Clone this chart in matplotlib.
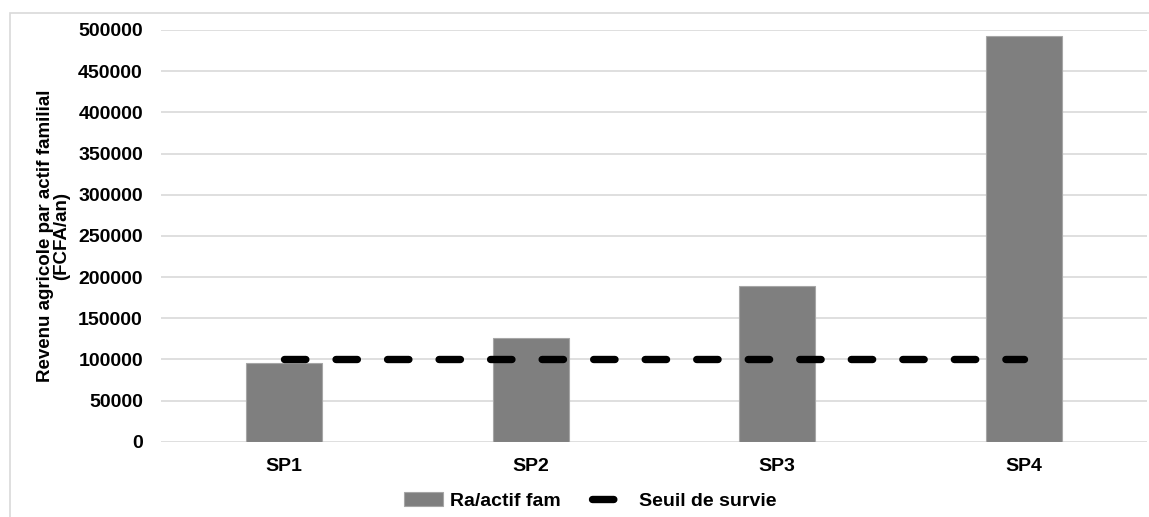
import matplotlib
matplotlib.use('Agg')
import matplotlib.pyplot as plt
from matplotlib.patches import Rectangle
import numpy as np

categories = ['SP1', 'SP2', 'SP3', 'SP4']
revenu = [95000, 126000, 189000, 493000]
seuil = [100000, 100000, 100000, 100000]
yticks = list(range(0, 500001, 50000))

plt.rcParams['font.family'] = ['Liberation Sans', 'DejaVu Sans']
plt.rcParams['font.weight'] = 'bold'

fig = plt.figure(figsize=(11.49, 5.17), dpi=100)
ax = fig.add_axes([161 / 1149, 1 - 441.7 / 517, 986 / 1149, (441.7 - 30) / 517])

x = np.arange(len(categories))
bars = ax.bar(x, revenu, width=0.31, color='#7f7f7f', edgecolor='#a6a6a6', linewidth=0.8,
              label='Ra/actif fam', zorder=2)
line, = ax.plot(x, seuil, color='black', lw=5.3, ls=(0, (2.9, 4.1)), dash_capstyle='round',
                label='Seuil de survie', zorder=3)

ax.set_xlim(-0.5, len(categories) - 0.5)
ax.set_ylim(0, 500000)
ax.set_yticks(yticks)
ax.set_yticklabels([str(v) for v in yticks])
ax.set_xticks(x)
ax.set_xticklabels(categories)
ax.tick_params(axis='y', length=0, pad=13, labelsize=14)
ax.tick_params(axis='x', length=0, pad=12, labelsize=14)
ax.grid(axis='y', color='#d9d9d9', lw=1.2, zorder=0)
for s in ax.spines.values():
    s.set_visible(False)

ax.set_ylabel('Revenu agricole par actif familial\n(FCFA/an)', fontsize=13.5,
              fontweight='bold', labelpad=6, linespacing=0.9)

fig.legend([bars, line], ['Ra/actif fam', 'Seuil de survie'], loc='center',
           bbox_to_anchor=(590 / 1149, 1 - 501 / 517), ncol=2,
           frameon=False, fontsize=14, handlelength=2.0, columnspacing=1.6,
           handletextpad=0.4)

# outer chart border
fig.patches.append(Rectangle((9.5 / 1149, -0.05), 1.2, 1.05 - 12.7 / 517,
                             transform=fig.transFigure, fill=False,
                             edgecolor='#d9d9d9', lw=1.2))

fig.savefig('out.png', dpi=100, facecolor='white')
